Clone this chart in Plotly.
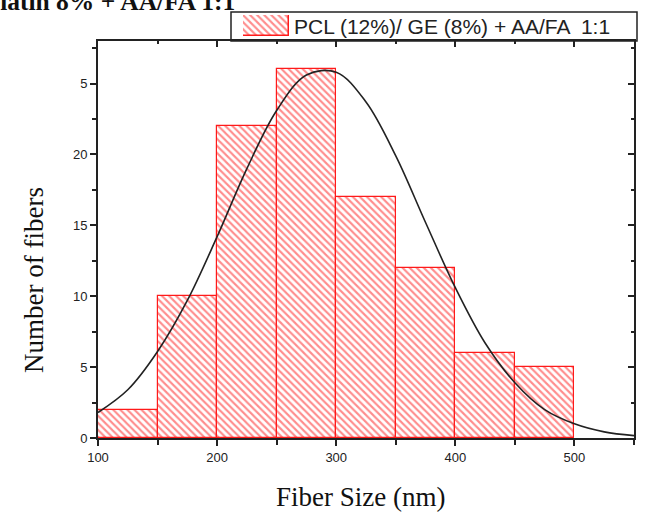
import plotly.graph_objects as go

# Histogram data
bin_starts = [100, 150, 200, 250, 300, 350, 400, 450]
bin_width = 50
counts = [2, 10, 22, 26, 17, 12, 6, 5]

# Gaussian fit curve
fit_x = [100, 125, 150, 175, 200, 225, 250, 275, 300, 325, 350, 375, 400, 425, 450, 475, 500, 525, 550]
fit_y = [1.8, 3.4, 6.1, 9.7, 14.2, 19.0, 23.1, 25.6, 25.8, 23.7, 19.9, 15.2, 10.6, 6.7, 3.9, 2.0, 1.0, 0.43, 0.17]

y_tickvals = [0, 5, 10, 15, 20, 25]
y_ticktext = ["0", "5", "10", "15", "20", "5"]
x_tickvals = [100, 200, 300, 400, 500]

legend_label = "PCL (12%)/ GE (8%) + AA/FA  1:1"
title_text = "Gelatin 8% + AA/FA 1:1"

W, H = 654, 519
ML, MR, MT, MB = 98, 20, 0, 81
PW, PH = W - ML - MR, H - MT - MB


def px_x(px):
    return (px - ML) / PW


def px_y(py):
    return (H - MB - py) / PH


RED = "#ff1a1a"
DARK = "#222222"

bar_centers = [s + bin_width / 2 for s in bin_starts]
hatch = dict(shape="\\", fgcolor=RED, bgcolor="white", size=5, solidity=0.42)

fig = go.Figure()
fig.add_trace(go.Bar(
    x=bar_centers, y=counts, width=[bin_width] * len(counts),
    name=legend_label,
    marker=dict(color="white", pattern=hatch, line=dict(color=RED, width=1.2)),
    showlegend=False,
))
fig.add_trace(go.Scatter(
    x=fit_x, y=fit_y, mode="lines", line=dict(color=DARK, width=1.6, shape="spline"),
    showlegend=False, hoverinfo="skip",
))
# invisible trace for mirror axes
fig.add_trace(go.Scatter(x=[100], y=[0], xaxis="x2", yaxis="y2", mode="markers",
                         marker=dict(opacity=0), showlegend=False, hoverinfo="skip"))
# legend swatch
fig.add_trace(go.Bar(x=[0.5], y=[1], width=[1], xaxis="x3", yaxis="y3",
                     marker=dict(color="white", pattern=hatch, line=dict(color=RED, width=1.5)),
                     showlegend=False, hoverinfo="skip"))

tickfont = dict(family="Liberation Sans, Arial", size=13, color=DARK)
ydom = [0, px_y(41)]

axis_common = dict(showgrid=False, zeroline=False, showline=True, linecolor=DARK, linewidth=1.8,
                   tickcolor=DARK, tickwidth=1.5)

fig.update_layout(
    width=W, height=H,
    margin=dict(l=ML, r=MR, t=MT, b=MB, autoexpand=False),
    paper_bgcolor="white", plot_bgcolor="white",
    bargap=0,
    showlegend=False,
    xaxis=dict(range=[100, 550], tickvals=x_tickvals, ticks="outside", ticklen=6,
               tickfont=tickfont, anchor="y",
               minor=dict(ticks="outside", dtick=50, tick0=100, ticklen=5, tickwidth=1.5, tickcolor=DARK),
               **axis_common),
    yaxis=dict(range=[0, 28], domain=ydom, tickvals=y_tickvals, ticktext=y_ticktext, ticks="outside",
               ticklen=6, tickfont=tickfont, anchor="x",
               minor=dict(ticks="outside", dtick=2.5, tick0=0, ticklen=4, tickwidth=1.5, tickcolor=DARK),
               **axis_common),
    xaxis2=dict(range=[100, 550], overlaying="x", side="top", anchor="y2", tickvals=x_tickvals,
                ticks="inside", ticklen=6, showticklabels=False,
                minor=dict(ticks="inside", dtick=50, tick0=100, ticklen=3, tickwidth=1.5, tickcolor=DARK),
                **axis_common),
    yaxis2=dict(range=[0, 28], domain=ydom, overlaying="y", side="right", anchor="x2", tickvals=y_tickvals,
                ticks="inside", ticklen=6, showticklabels=False,
                minor=dict(ticks="inside", dtick=2.5, tick0=0, ticklen=3, tickwidth=1.5, tickcolor=DARK),
                **axis_common),
    xaxis3=dict(domain=[px_x(243), px_x(289)], range=[0, 1], anchor="y3", visible=False, fixedrange=True),
    yaxis3=dict(domain=[px_y(36), px_y(15)], range=[0, 1], anchor="x3", visible=False, fixedrange=True),
    shapes=[
        dict(type="rect", xref="paper", yref="paper", x0=px_x(231), x1=px_x(637),
             y0=px_y(41), y1=px_y(12), line=dict(color=DARK, width=1.5), fillcolor="rgba(0,0,0,0)",
             layer="below"),
    ],
    annotations=[
        dict(text=legend_label, xref="paper", yref="paper", x=px_x(292), y=px_y(26),
             showarrow=False, xanchor="left", yanchor="middle",
             font=dict(family="Liberation Sans, Arial", size=21, color=DARK)),
        dict(text="Number of fibers", xref="paper", yref="paper", x=px_x(34), y=px_y(280),
             textangle=-90, showarrow=False, xanchor="center", yanchor="middle",
             font=dict(family="Liberation Serif, Times New Roman", size=27, color="#111")),
        dict(text="Fiber Size (nm)", xref="paper", yref="paper", x=px_x(360), y=px_y(497),
             showarrow=False, xanchor="center", yanchor="middle",
             font=dict(family="Liberation Serif, Times New Roman", size=27, color="#111")),
        dict(text="<b>" + title_text + "</b>", xref="paper", yref="paper", x=px_x(237),
             y=px_y(18), showarrow=False, xanchor="right", yanchor="bottom",
             font=dict(family="Liberation Serif, Times New Roman", size=25.5, color="#111")),
    ],
)

fig.write_html("out.html", config={"displayModeBar": False},
               post_script="document.body.style.margin='0';")
